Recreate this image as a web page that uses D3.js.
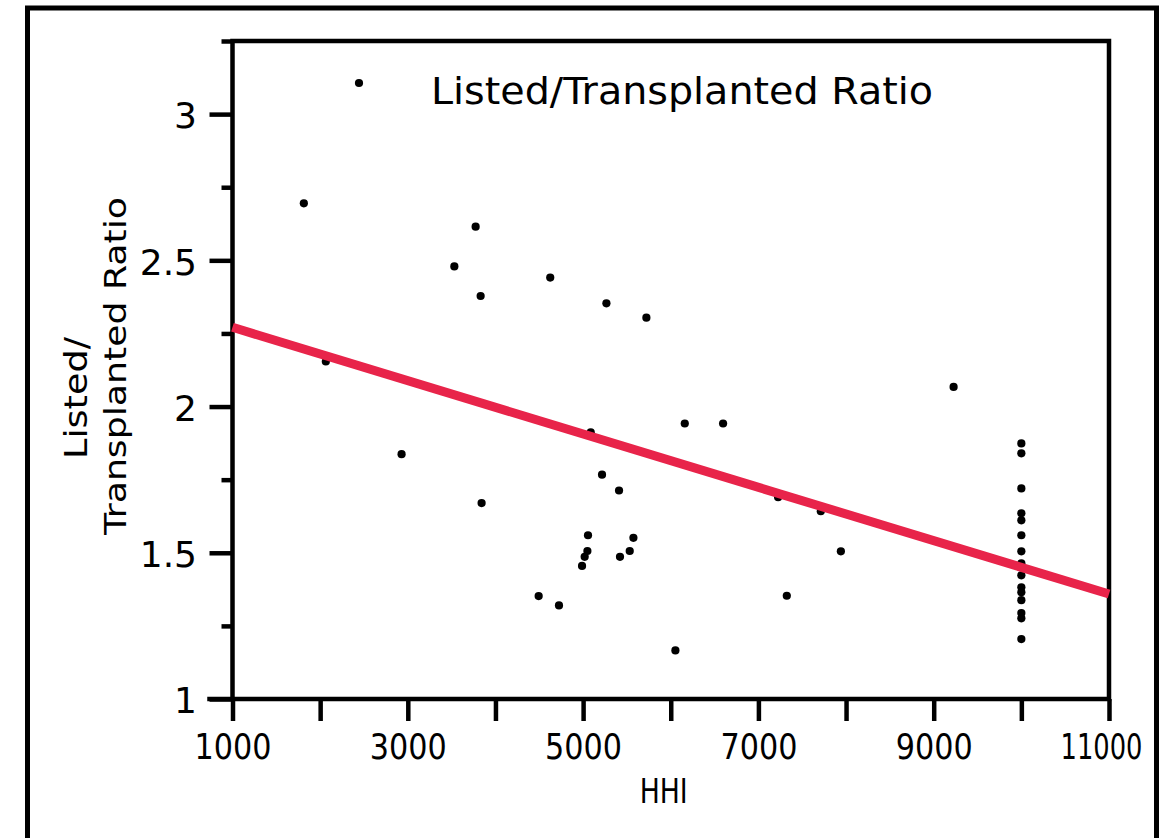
<!DOCTYPE html>
<html>
<head>
<meta charset="utf-8">
<script src="https://cdn.jsdelivr.net/npm/d3@7"></script>
<style>
  html, body { margin: 0; padding: 0; background: #fff; }
  svg { display: block; }
  text { font-family: "DejaVu Sans", "Liberation Sans", sans-serif; fill: #000; }
</style>
</head>
<body>
<svg id="chart" width="1168" height="838"></svg>
<script>
// HHI (market concentration) per region
const hhi = [
  1814, 2065, 2929, 3531, 3774, 3831, 3842, 4493, 4625, 4725,
  4988, 5018, 5049, 5056, 5087, 5216, 5266, 5410, 5421, 5532,
  5574, 5722, 6053, 6160, 6597, 7225, 7324, 7712, 7941, 9227,
  10000, 10000, 10000, 10000, 10000, 10000, 10000, 10000,
  10000, 10000, 10000, 10000, 10000, 10000, 10000
];
// Listed-to-transplanted ratio for the same regions
const ratio = [
  2.695, 2.154, 1.837, 2.479, 2.615, 2.378, 1.670, 1.352, 2.441, 1.320,
  1.455, 1.486, 1.506, 1.560, 1.912, 1.767, 2.353, 1.713, 1.486, 1.506,
  1.551, 2.304, 1.166, 1.942, 1.942, 1.690, 1.353, 1.642, 1.505, 2.067,
  1.874, 1.840, 1.720, 1.635, 1.611, 1.560, 1.505, 1.464,
  1.423, 1.382, 1.365, 1.338, 1.294, 1.276, 1.205
];
// Least-squares fit, evaluated at the ends of the HHI range
const fitX = [1000, 11000];
const fitY = [2.271, 1.359];

const xTickValues = [1000, 2000, 3000, 4000, 5000, 6000, 7000, 8000, 9000, 10000, 11000];
const xTickLabels = [1000, 3000, 5000, 7000, 9000, 11000];
const yMinorTicks = [1.25, 1.75, 2.25, 2.75, 3.25];
const yTickLabels = [1, 1.5, 2, 2.5, 3];

const svg = d3.select("#chart");

const plotLeft = 232.5, plotRight = 1109, plotTop = 41, plotBottom = 699;
const x = d3.scaleLinear().domain([1000, 11000]).range([plotLeft, plotRight]);
const y = d3.scaleLinear().domain([1, 3.25]).range([plotBottom, plotTop]);

// outer frame
svg.append("path")
  .attr("d", `M27.5,850 V8 H1156.5 V850`)
  .attr("fill", "none").attr("stroke", "#000").attr("stroke-width", 5);

const axisStroke = 4.5;

function styleAxis(g) {
  g.select(".domain").remove();
  g.selectAll(".tick line").attr("stroke", "#000").attr("stroke-width", axisStroke);
}

// y axis: long ticks with labels, short minor ticks
svg.append("g")
  .attr("transform", `translate(${plotLeft},0)`)
  .call(d3.axisLeft(y).tickValues(yMinorTicks).tickSize(11).tickSizeOuter(0).tickFormat(""))
  .call(styleAxis);

const yMajor = svg.append("g")
  .attr("transform", `translate(${plotLeft},0)`)
  .call(d3.axisLeft(y).tickValues(yTickLabels).tickSize(23).tickSizeOuter(0).tickPadding(12)
    .tickFormat(d3.format("~g")))
  .call(styleAxis);
yMajor.selectAll(".tick text")
  .attr("font-size", 36).attr("dy", "0.38em").attr("x", -35.5)
  .style("font-family", "DejaVu Sans");

// x axis: ticks every 1000, labels every 2000 in a narrow setting
const xAx = svg.append("g")
  .attr("transform", `translate(0,${plotBottom})`)
  .call(d3.axisBottom(x).tickValues(xTickValues).tickSize(22).tickSizeOuter(0).tickPadding(14)
    .tickFormat(d => xTickLabels.includes(d) ? d : ""))
  .call(styleAxis);
xAx.selectAll(".tick text")
  .filter(d => xTickLabels.includes(d))
  .attr("font-size", 35).attr("dy", 0).attr("y", 60)
  .attr("dx", d => String(d).length === 5 ? -8 : 0)
  .attr("textLength", d => String(d).length === 5 ? 82 : 77)
  .attr("lengthAdjust", "spacingAndGlyphs")
  .style("font-family", "DejaVu Sans");

// plot box lines
svg.append("path")
  .attr("d", `M${plotLeft},${plotBottom} V${plotTop} H${plotRight} V${plotBottom} H${plotLeft - 23}`)
  .attr("fill", "none").attr("stroke", "#000").attr("stroke-width", axisStroke)
  .attr("stroke-linecap", "square");

// data points
svg.append("g").selectAll("circle")
  .data(hhi.map((h, i) => [h, ratio[i]]))
  .join("circle")
  .attr("cx", d => x(d[0]))
  .attr("cy", d => y(d[1]))
  .attr("r", 4.1)
  .attr("fill", "#000");

// fitted line
svg.append("line")
  .attr("x1", x(fitX[0])).attr("y1", y(fitY[0]))
  .attr("x2", x(fitX[1])).attr("y2", y(fitY[1]))
  .attr("stroke", "#e8244a").attr("stroke-width", 9);

// legend
svg.append("circle").attr("cx", 359).attr("cy", 83).attr("r", 4.1).attr("fill", "#000");
svg.append("text")
  .attr("x", 431).attr("y", 104)
  .attr("font-size", 38)
  .attr("textLength", 502).attr("lengthAdjust", "spacingAndGlyphs")
  .text("Listed/Transplanted Ratio");

// axis titles
svg.append("text")
  .attr("x", (plotLeft + plotRight) / 2 - 7).attr("y", 803)
  .attr("text-anchor", "middle").attr("font-size", 34)
  .attr("textLength", 48).attr("lengthAdjust", "spacingAndGlyphs")
  .text("HHI");

svg.append("text")
  .attr("transform", "translate(87,398) rotate(-90)")
  .attr("text-anchor", "middle").attr("font-size", 32)
  .attr("textLength", 122).attr("lengthAdjust", "spacingAndGlyphs")
  .text("Listed/");
svg.append("text")
  .attr("transform", "translate(126,366) rotate(-90)")
  .attr("text-anchor", "middle").attr("font-size", 31)
  .attr("textLength", 338).attr("lengthAdjust", "spacingAndGlyphs")
  .text("Transplanted Ratio");
</script>
</body>
</html>
